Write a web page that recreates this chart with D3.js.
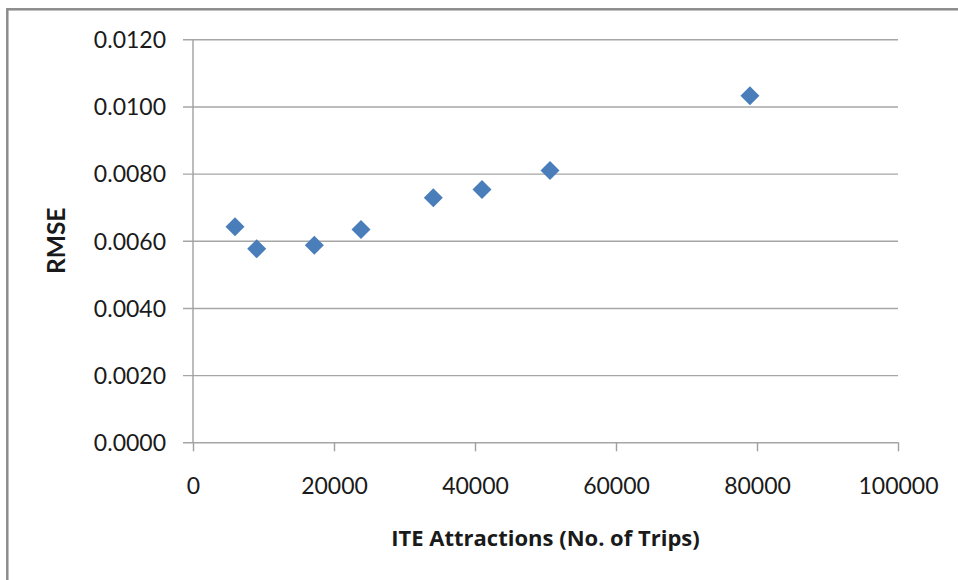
<!DOCTYPE html>
<html>
<head>
<meta charset="utf-8">
<script src="https://cdn.jsdelivr.net/npm/d3@7"></script>
<style>
  html, body { margin: 0; padding: 0; background: #fff; }
  svg { display: block; }
  text { font-family: Lato, "Open Sans", sans-serif; fill: #1a1a1a; }
</style>
</head>
<body>
<svg id="chart" width="958" height="580"></svg>
<script>
// ITE attractions (number of trips) against RMSE
const attractions = [5957, 9035, 17210, 23830, 34090, 40990, 50640, 79000];
const rmse = [0.00642, 0.00576, 0.00587, 0.00634, 0.00728, 0.00753, 0.00809, 0.01032];
const xTickValues = [0, 20000, 40000, 60000, 80000, 100000];
const yTickValues = [0, 0.002, 0.004, 0.006, 0.008, 0.010, 0.012];
const xTitle = "ITE Attractions (No. of Trips)";
const yTitle = "RMSE";

const svg = d3.select("#chart");
const plot = { left: 193, right: 898, top: 39.3, bottom: 442.3 };
const tickLen = 10;

// chart-area frame
svg.append("rect")
  .attr("x", 7.3).attr("y", 9.3)
  .attr("width", 1200).attr("height", 1200)
  .attr("fill", "none")
  .attr("stroke", "#8c8c8c")
  .attr("stroke-width", 2.5);

const x = d3.scaleLinear().domain([0, 100000]).range([plot.left, plot.right]);
const y = d3.scaleLinear().domain([0, 0.012]).range([plot.bottom, plot.top]);

// horizontal gridlines with tick extension and value labels
const yAxis = d3.axisLeft(y)
  .tickValues(yTickValues)
  .tickFormat(d3.format(".4f"))
  .tickSize(plot.right - plot.left + tickLen)
  .tickPadding(17);
const gy = svg.append("g")
  .attr("transform", `translate(${plot.right},0)`)
  .call(yAxis);
gy.select(".domain").remove();
gy.selectAll(".tick line").attr("stroke", "#a6a6a6").attr("stroke-width", 1.4);
gy.selectAll(".tick text")
  .attr("font-size", 23)
  .attr("dy", "0.36em")
  .style("font-family", "Lato, 'Open Sans', sans-serif")
  .attr("fill", "#1a1a1a");

// vertical axis line
svg.append("line")
  .attr("x1", plot.left).attr("x2", plot.left)
  .attr("y1", plot.top).attr("y2", plot.bottom)
  .attr("stroke", "#a0a0a0").attr("stroke-width", 1.4);

// x axis
const xAxis = d3.axisBottom(x)
  .tickValues(xTickValues)
  .tickFormat(d3.format("d"))
  .tickSize(9)
  .tickPadding(26);
const gx = svg.append("g")
  .attr("transform", `translate(0,${plot.bottom})`)
  .call(xAxis);
gx.select(".domain").remove();
gx.selectAll(".tick line").attr("stroke", "#a0a0a0").attr("stroke-width", 1.4);
gx.selectAll(".tick text")
  .attr("font-size", 23)
  .style("font-family", "Lato, 'Open Sans', sans-serif")
  .attr("fill", "#1a1a1a");

// diamond markers
const diamond = d3.symbol().type(d3.symbolSquare).size(2 * 9.5 * 9.5);
svg.append("g")
  .selectAll("path")
  .data(attractions.map((a, i) => ({ a, r: rmse[i] })))
  .join("path")
  .attr("d", diamond)
  .attr("transform", d => `translate(${x(d.a)},${y(d.r)}) rotate(45)`)
  .attr("fill", "#4a7ebb");

// axis titles
svg.append("text")
  .attr("x", (plot.left + plot.right) / 2)
  .attr("y", 545.5)
  .attr("text-anchor", "middle")
  .attr("font-size", 22)
  .attr("font-weight", "bold")
  .style("font-family", "'Open Sans', Lato, sans-serif")
  .text(xTitle);

svg.append("text")
  .attr("transform", `translate(65,${(plot.top + plot.bottom) / 2}) rotate(-90)`)
  .attr("text-anchor", "middle")
  .attr("font-size", 24.5)
  .attr("font-weight", "bold")
  .text(yTitle);
</script>
</body>
</html>
